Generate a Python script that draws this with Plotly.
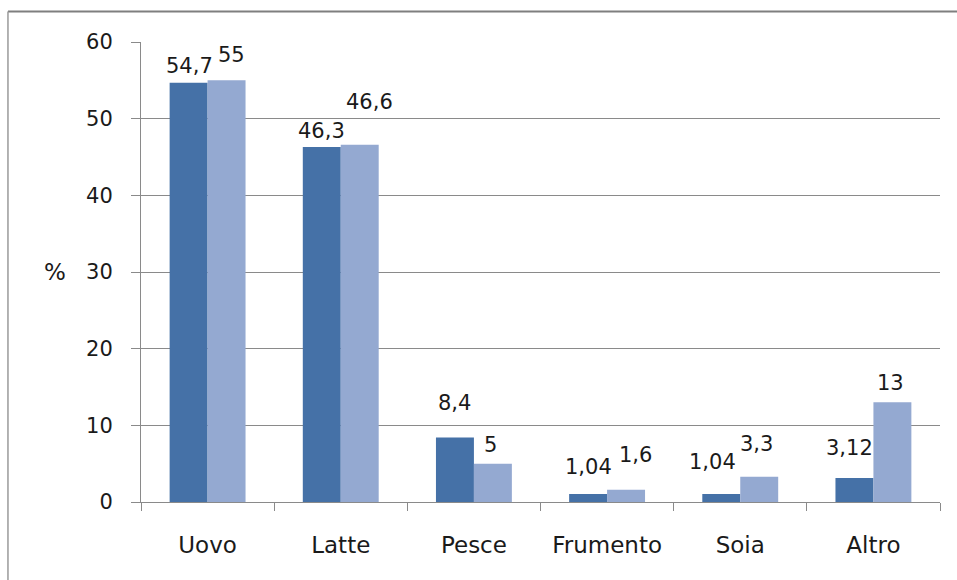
import plotly.graph_objects as go

# Categories and the two percentage series
categories = ["Uovo", "Latte", "Pesce", "Frumento", "Soia", "Altro"]
serie_a = [54.7, 46.3, 8.4, 1.04, 1.04, 3.12]
serie_b = [55, 46.6, 5, 1.6, 3.3, 13]
y_ticks = [0, 10, 20, 30, 40, 50, 60]

# Label placement (pixel offsets from the bar top / bar centre)
label_dy_a = [17, 16, 35, 27, 32, 30]
label_dy_b = [25, 43, 19, 35, 33, 19]
label_dx_a = [-18, -19, -19, -19, -28, -24]
label_dx_b = [24, 29, 17, 28, 16, 17]

DARK = "#4571A7"
LIGHT = "#94A9D1"
GRID = "#8A8A8A"
FONT = "DejaVu Sans"
TEXT = "#1a1a1a"


def fmt(v):
    s = ("%g" % v).replace(".", ",")
    return s


fig = go.Figure()
fig.add_trace(go.Bar(x=categories, y=serie_a, marker=dict(color=DARK, line=dict(width=0)),
                     showlegend=False))
fig.add_trace(go.Bar(x=categories, y=serie_b, marker=dict(color=LIGHT, line=dict(width=0)),
                     showlegend=False))

annotations = []
for vals, dys, dxs in ((serie_a, label_dy_a, label_dx_a), (serie_b, label_dy_b, label_dx_b)):
    for cat, v, dy, dx in zip(categories, vals, dys, dxs):
        annotations.append(dict(x=cat, y=v, xref="x", yref="y", text=fmt(v),
                                showarrow=False, xshift=dx, yshift=dy,
                                xanchor="center", yanchor="middle",
                                font=dict(family=FONT, size=21, color=TEXT)))

# Axis title
annotations.append(dict(x=-0.1076, y=30, xref="paper", yref="y", text="%",
                        showarrow=False, xanchor="center", yanchor="middle",
                        font=dict(family=FONT, size=23, color=TEXT)))

fig.update_layout(
    width=957, height=580,
    margin=dict(l=141, r=17, t=42, b=78),
    paper_bgcolor="white", plot_bgcolor="white",
    barmode="group", bargap=0.43, bargroupgap=0,
    annotations=annotations,
    shapes=[
        # outer chart frame (top and left edges)
        dict(type="line", xref="paper", yref="paper", x0=-0.1665, x1=1.03,
             y0=1.0663, y1=1.0663, line=dict(color="#7f7f7f", width=2)),
        dict(type="line", xref="paper", yref="paper", x0=-0.1665, x1=-0.1665,
             y0=1.0663, y1=-0.2, line=dict(color="#9a9a9a", width=1.5)),
    ],
    xaxis=dict(
        showgrid=False, showline=True, linecolor=GRID, linewidth=1,
        ticks="outside", tickson="boundaries", ticklen=8, tickcolor=GRID,
        tickfont=dict(family=FONT, size=23, color=TEXT),
        ticklabelstandoff=22,
    ),
    yaxis=dict(
        range=[0, 60], tickvals=y_ticks, showgrid=True, gridcolor=GRID, gridwidth=1,
        showline=True, linecolor=GRID, linewidth=1, zeroline=False,
        ticks="outside", ticklen=9, tickcolor=GRID,
        tickfont=dict(family=FONT, size=21, color=TEXT),
        ticklabelstandoff=14,
    ),
)

fig.write_html("out.html")
